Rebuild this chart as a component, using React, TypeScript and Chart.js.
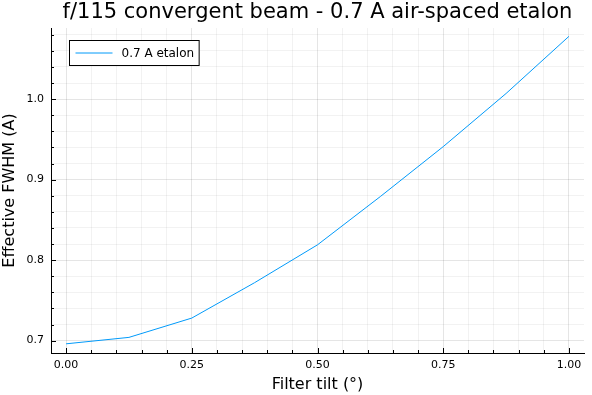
import React, { useEffect, useRef } from "react";
import { Chart, registerables } from "chart.js";

Chart.register(...registerables);

const TITLE = "f/115 convergent beam - 0.7 A air-spaced etalon";
const X_LABEL = "Filter tilt (°)";
const Y_LABEL = "Effective FWHM (A)";
const SERIES_LABEL = "0.7 A etalon";
const tiltDeg = [0, 0.125, 0.25, 0.375, 0.5, 0.625, 0.75, 0.875, 1.0];
const fwhm = [0.696, 0.704, 0.728, 0.772, 0.819, 0.879, 0.941, 1.007, 1.078];
const X_MIN = -0.03;
const X_MAX = 1.03;
const Y_MIN = 0.6846;
const Y_MAX = 1.0884;

const LINE_COLOR = "rgb(0,154,250)";
const FONT = "DejaVu Sans";

const isMajor = (v: number, step: number) => Math.abs(v / step - Math.round(v / step)) < 1e-6;

const decorPlugin = {
  id: "decor",
  afterDraw(chart: any) {
    const ctx = chart.ctx;
    const area = chart.chartArea;
    const xs = chart.scales.x;
    const ys = chart.scales.y;
    ctx.save();
    // tick marks (inward)
    ctx.strokeStyle = "#000";
    ctx.lineWidth = 1;
    ctx.beginPath();
    xs.ticks.forEach((t: any) => {
      const px = Math.round(xs.getPixelForValue(t.value)) + 0.5;
      const len = isMajor(t.value, 0.25) ? 5 : 3;
      ctx.moveTo(px, area.bottom);
      ctx.lineTo(px, area.bottom - len);
    });
    ys.ticks.forEach((t: any) => {
      const py = Math.round(ys.getPixelForValue(t.value)) + 0.5;
      const len = isMajor(t.value, 0.1) ? 5 : 3;
      ctx.moveTo(area.left, py);
      ctx.lineTo(area.left + len, py);
    });
    ctx.stroke();

    // title centred on plot area
    ctx.fillStyle = "#000";
    ctx.font = `21px "${FONT}"`;
    ctx.textAlign = "center";
    ctx.textBaseline = "middle";
    ctx.fillText(TITLE, (area.left + area.right) / 2, 13);

    // legend inside plot area
    const ds = chart.data.datasets[0];
    ctx.font = `12px "${FONT}"`;
    const tw = ctx.measureText(ds.label).width;
    const bx = Math.round(area.left + 18) + 0.5;
    const by = Math.round(area.top + 12) + 0.5;
    const bw = 6 + 37 + 9 + tw + 5;
    const bh = 25;
    ctx.fillStyle = "#fff";
    ctx.fillRect(bx, by, bw, bh);
    ctx.strokeStyle = "#000";
    ctx.strokeRect(bx, by, bw, bh);
    ctx.strokeStyle = ds.borderColor;
    ctx.beginPath();
    ctx.moveTo(bx + 6, by + 12.5);
    ctx.lineTo(bx + 43, by + 12.5);
    ctx.stroke();
    ctx.fillStyle = "#000";
    ctx.textAlign = "left";
    ctx.fillText(ds.label, bx + 52, by + 13);
    ctx.restore();
  },
};

export default function App() {
  const ref = useRef<HTMLCanvasElement>(null);
  useEffect(() => {
    document.body.style.margin = "0";
    const canvas = ref.current!;
    const chart = new Chart(canvas, {
      type: "line",
      data: {
        datasets: [
          {
            label: SERIES_LABEL,
            data: tiltDeg.map((x, i) => ({ x, y: fwhm[i] })),
            borderColor: LINE_COLOR,
            backgroundColor: LINE_COLOR,
            borderWidth: 1,
            pointRadius: 0,
            tension: 0,
          },
        ],
      },
      options: {
        responsive: false,
        animation: false,
        layout: { padding: { top: 28, right: 8, left: 0, bottom: 0 } },
        plugins: { legend: { display: false }, title: { display: false }, tooltip: { enabled: false } },
        scales: {
          x: {
            type: "linear",
            min: X_MIN,
            max: X_MAX,
            afterFit: (s: any) => { s.height = 42; },
            ticks: {
              stepSize: 0.05,
              includeBounds: false,
              autoSkip: false,
              maxRotation: 0,
              padding: 6,
              color: "#000",
              font: { family: FONT, size: 11 },
              callback: (v: any) => (isMajor(Number(v), 0.25) ? Number(v).toFixed(2) : ""),
            },
            grid: {
              drawTicks: false,
              lineWidth: 1,
              color: (c: any) => (c.tick && isMajor(c.tick.value, 0.25) ? "rgba(0,0,0,0.1)" : "rgba(0,0,0,0.05)"),
            },
            border: { display: true, color: "#000", width: 1 },
            title: { display: true, text: X_LABEL, color: "#000", font: { family: FONT, size: 16 }, padding: { top: 0, bottom: 1 } },
          },
          y: {
            type: "linear",
            min: Y_MIN,
            max: Y_MAX,
            afterFit: (s: any) => { s.width = 51; },
            ticks: {
              stepSize: 0.02,
              includeBounds: false,
              autoSkip: false,
              padding: 7,
              color: "#000",
              font: { family: FONT, size: 11 },
              callback: (v: any) => (isMajor(Number(v), 0.1) ? Number(v).toFixed(1) : ""),
            },
            grid: {
              drawTicks: false,
              lineWidth: 1,
              color: (c: any) => (c.tick && isMajor(c.tick.value, 0.1) ? "rgba(0,0,0,0.1)" : "rgba(0,0,0,0.05)"),
            },
            border: { display: true, color: "#000", width: 1 },
            title: { display: true, text: Y_LABEL, color: "#000", font: { family: FONT, size: 16 }, padding: { top: 0, bottom: 0 } },
          },
        },
      },
      plugins: [decorPlugin],
    });
    return () => chart.destroy();
  }, []);
  return (
    <div style={{ width: 592, height: 395 }}>
      <canvas ref={ref} width={592} height={395} />
    </div>
  );
}
